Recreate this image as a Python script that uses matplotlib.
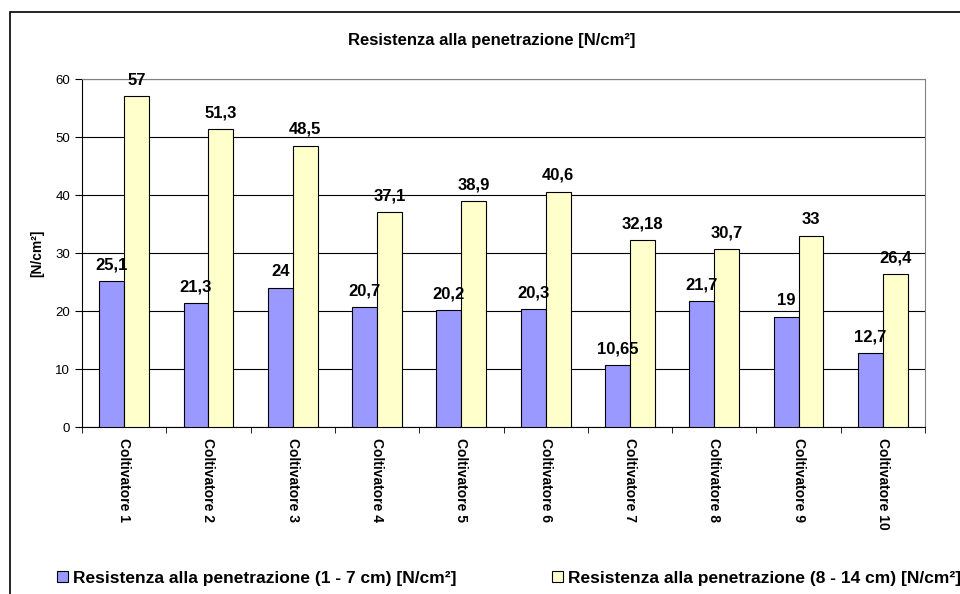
import numpy as np
import matplotlib
matplotlib.use("Agg")
import matplotlib.pyplot as plt
from matplotlib.patches import Rectangle

plt.rcParams['font.family'] = ['Liberation Sans', 'DejaVu Sans']

# data
categories = ["Coltivatore 1", "Coltivatore 2", "Coltivatore 3", "Coltivatore 4", "Coltivatore 5",
              "Coltivatore 6", "Coltivatore 7", "Coltivatore 8", "Coltivatore 9", "Coltivatore 10"]
shallow = [25.1, 21.3, 24, 20.7, 20.2, 20.3, 10.65, 21.7, 19, 12.7]
deep = [57, 51.3, 48.5, 37.1, 38.9, 40.6, 32.18, 30.7, 33, 26.4]
shallow_labels = ["25,1", "21,3", "24", "20,7", "20,2", "20,3", "10,65", "21,7", "19", "12,7"]
deep_labels = ["57", "51,3", "48,5", "37,1", "38,9", "40,6", "32,18", "30,7", "33", "26,4"]
series_names = ["Resistenza alla penetrazione (1 - 7 cm) [N/cm²]",
                "Resistenza alla penetrazione (8 - 14 cm) [N/cm²]"]

fig = plt.figure(figsize=(9.6, 5.94), dpi=100)
# outer chart border (cut off at right and bottom like the original)
fig.patches.append(Rectangle((10/960, -0.05), 1.0, 1 - 12/594 + 0.05, transform=fig.transFigure,
                             fill=False, edgecolor='black', linewidth=1.2))

ax = fig.add_axes([82/960, 167/594, 843/960, 348/594])
x = np.arange(len(categories))
w = 0.295
b1 = ax.bar(x - w/2, shallow, w, color='#9999FF', edgecolor='black', linewidth=0.8, zorder=3)
b2 = ax.bar(x + w/2, deep, w, color='#FFFFCC', edgecolor='black', linewidth=0.8, zorder=3)

for bars, labs in [(b1, shallow_labels), (b2, deep_labels)]:
    for r, t in zip(bars, labs):
        ax.text(r.get_x() + r.get_width()/2, r.get_height() + 1.5, t, ha='center', va='bottom',
                fontsize=12, fontweight='bold')

ax.set_xlim(-0.5, len(categories) - 0.5)
ax.set_ylim(0, 60)
ax.set_yticks(range(0, 61, 10))
ax.yaxis.grid(True, color='black', linewidth=0.8, zorder=0)
ax.tick_params(axis='y', labelsize=9.5, length=5, direction='out')
ax.set_xticks(x)
ax.set_xticklabels(categories, rotation=-90, fontsize=10, fontweight='bold', va='top')
ax.tick_params(axis='x', which='major', length=0, pad=8)
ax.set_xticks(np.arange(-0.5, len(categories), 1), minor=True)
ax.tick_params(axis='x', which='minor', length=4, color='black')
for s in ['top', 'right']:
    ax.spines[s].set_color('#808080')

ax.set_ylabel("[N/cm²]", fontsize=10, fontweight='bold', labelpad=8)
fig.text(492/960, 553/594, "Resistenza alla penetrazione [N/cm²]", ha='center', va='center',
         fontsize=12, fontweight='bold')

leg_x = [50/960, 545/960]
for h, name, lx in zip([b1, b2], series_names, leg_x):
    leg = fig.legend([h], [name], loc='center left', bbox_to_anchor=(lx, 16/594),
                     frameon=False, prop={'size': 12.5, 'weight': 'bold'}, handlelength=0.65,
                     handleheight=0.65, handletextpad=0.3, borderaxespad=0)

fig.savefig("out.png", dpi=100)
